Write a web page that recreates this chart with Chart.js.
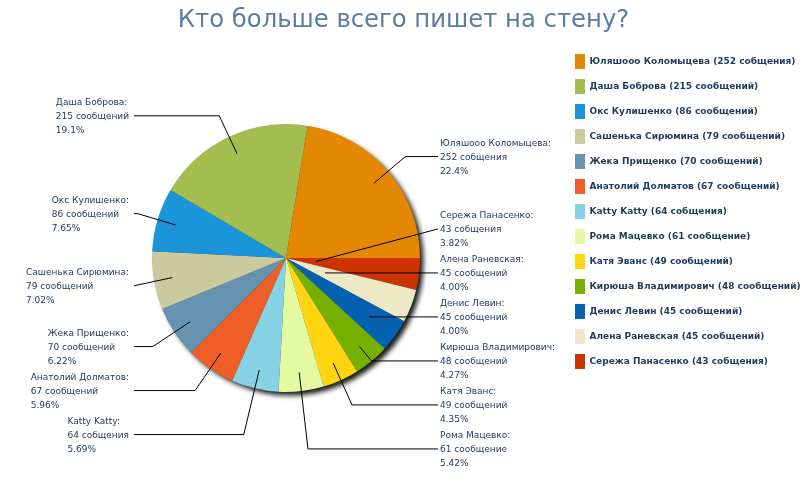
<!DOCTYPE html>
<html><head><meta charset="utf-8">
<script src="https://cdn.jsdelivr.net/npm/chart.js@4.4.1/dist/chart.umd.min.js"></script>
<style>html,body{margin:0;padding:0;background:#fff;overflow:hidden}#wrap{width:800px;height:500px}</style>
</head><body>
<div id="wrap"><canvas id="c" width="800" height="500"></canvas></div>
<script>
const titleText = 'Кто больше всего пишет на стену?';
const names = ['Юляшооо Коломыцева','Даша Боброва','Окс Кулишенко','Сашенька Сирюмина','Жека Прищенко','Анатолий Долматов','Katty Katty','Рома Мацевко','Катя Эванс','Кирюша Владимирович','Денис Левин','Алена Раневская','Сережа Панасенко'];
const values = [252,215,86,79,70,67,64,61,49,48,45,45,43];
const units = ['собщения','сообщений','сообщений','сообщений','сообщений','сообщений','собщения','сообщение','сообщений','сообщений','сообщений','сообщений','собщения'];
const colors = ['#E48701','#A5BC4E','#1B95D9','#CACA9E','#6693B0','#F05E27','#86D1E4','#E4F9A0','#FFD512','#75B000','#0662B0','#EDE8C6','#CC3300'];

// Chart.js draws clockwise; the reference goes counter-clockwise from 3 o'clock
const order = values.map((v, i) => i).reverse();
const total = values.reduce((a, b) => a + b, 0);
const legendLabels = order.map(i => names[i] + ' (' + values[i] + ' ' + units[i] + ')');

function pctText(v) {
  const p = v / total * 100;
  return p >= 10 ? (Math.floor(p * 10 + 1e-9) / 10).toFixed(1) + '%'
                 : (Math.floor(p * 100 + 1e-9) / 100).toFixed(2) + '%';
}

const shadowPlugin = {
  id: 'pieShadow',
  beforeDatasetsDraw(chart) {
    const el = chart.getDatasetMeta(0).data[0];
    if (!el) return;
    const ctx = chart.ctx;
    ctx.save();
    ctx.shadowColor = 'rgba(0,0,0,0.9)';
    ctx.shadowBlur = 5;
    ctx.shadowOffsetX = 4;
    ctx.shadowOffsetY = 4;
    ctx.beginPath();
    ctx.arc(el.x, el.y, el.outerRadius - 0.5, 0, Math.PI * 2);
    ctx.fillStyle = '#444';
    ctx.fill();
    ctx.restore();
  }
};

const labelPlugin = {
  id: 'sideLabels',
  afterDatasetsDraw(chart) {
    const meta = chart.getDatasetMeta(0);
    const ctx = chart.ctx;
    const els = meta.data;
    if (!els.length) return;
    const cx = els[0].x, cy = els[0].y, R = els[0].outerRadius;
    const gap = 44, lh = 14;
    const maxY = cy + R * 1.425;
    const items = els.map((el, k) => {
      const a = (el.startAngle + el.endAngle) / 2;
      const i = order[k];
      return {
        a, i,
        side: Math.cos(a) >= 0 ? 1 : -1,
        y: cy + R * 1.18 * Math.sin(a) + 1,
        lines: [names[i] + ':', values[i] + ' ' + units[i], pctText(values[i])]
      };
    });
    [1, -1].forEach(side => {
      const list = items.filter(o => o.side === side).sort((p, q) => p.y - q.y);
      for (let j = 1; j < list.length; j++) list[j].y = Math.max(list[j].y, list[j - 1].y + gap);
      if (list.length && list[list.length - 1].y > maxY) {
        list[list.length - 1].y = maxY;
        for (let j = list.length - 2; j >= 0; j--) list[j].y = Math.min(list[j].y, list[j + 1].y - gap);
      }
    });
    ctx.save();
    ctx.font = '9px "DejaVu Sans"';
    ctx.textBaseline = 'middle';
    ctx.strokeStyle = '#000';
    ctx.lineWidth = 1;
    items.forEach(o => {
      const s = o.side, ca = Math.cos(o.a), sa = Math.sin(o.a);
      const endX = cx + s * 152;
      const dy = o.y - cy;
      const anchorR = R * 0.86;
      let rInt = (Math.abs(sa) > 1e-3 && dy / sa > 0) ? dy / sa : -1;
      ctx.beginPath();
      if (rInt < 0) {
        ctx.moveTo(cx + 30 * ca, cy + 30 * sa);
        ctx.lineTo(endX, o.y);
      } else if (rInt <= anchorR) {
        ctx.moveTo(cx + rInt * ca, o.y);
        ctx.lineTo(endX, o.y);
      } else {
        const ex = cx + rInt * ca;
        ctx.moveTo(cx + anchorR * ca, cy + anchorR * sa);
        if (s * (ex - endX) < 0) ctx.lineTo(ex, o.y);
        ctx.lineTo(endX, o.y);
      }
      ctx.stroke();
      ctx.fillStyle = '#23405f';
      ctx.textAlign = 'left';
      let tx;
      if (s > 0) tx = cx + 154;
      else {
        const w = Math.max(...o.lines.map(t => ctx.measureText(t).width));
        tx = cx - 157 - w;
      }
      o.lines.forEach((t, j) => ctx.fillText(t, tx, o.y + (j - 1) * lh + 1));
    });
    ctx.restore();
  }
};

new Chart(document.getElementById('c'), {
  type: 'pie',
  data: {
    labels: legendLabels,
    datasets: [{
      data: order.map(i => values[i]),
      backgroundColor: order.map(i => colors[i]),
      borderWidth: 0,
      radius: 134
    }]
  },
  options: {
    responsive: false,
    animation: false,
    rotation: 90,
    layout: { padding: { left: 7, bottom: 28 } },
    plugins: {
      tooltip: { enabled: false },
      title: {
        display: true,
        text: titleText,
        color: '#5b7ca3',
        font: { family: '"DejaVu Sans"', size: 24.3, weight: 'normal' },
        padding: { top: 6.4, bottom: 8.4 }
      },
      legend: {
        position: 'right',
        align: 'start',
        fullSize: false,
        reverse: true,
        maxWidth: 235,
        labels: {
          boxWidth: 10,
          boxHeight: 15,
          padding: 10,
          color: '#1f3b5e',
          font: { family: '"DejaVu Sans"', size: 9, weight: 'bold' }
        }
      }
    }
  },
  plugins: [shadowPlugin, labelPlugin]
});
</script>
</body></html>
